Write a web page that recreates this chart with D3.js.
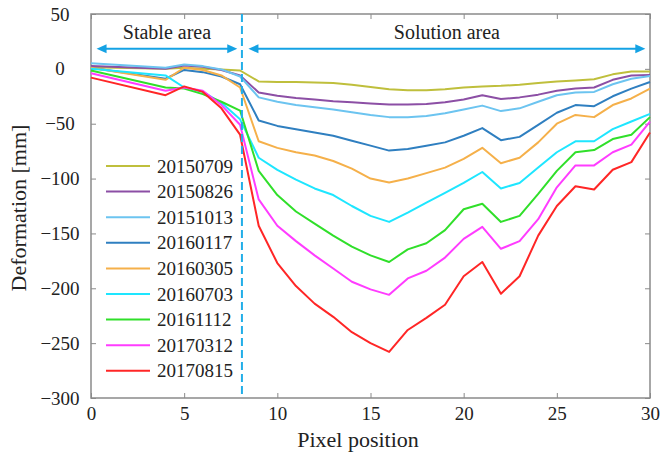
<!DOCTYPE html>
<html>
<head>
<meta charset="utf-8">
<script src="https://cdn.jsdelivr.net/npm/d3@7"></script>
<style>
  body { margin: 0; background: #fff; }
  svg { display: block; }
</style>
</head>
<body>
<main></main>
<script>
// pixel positions (shared by every series)
const positions = [0, 4, 5, 6, 7, 8, 9, 10, 11, 12, 13, 14, 15, 16, 17, 18, 19, 20, 21, 22, 23, 24, 25, 26, 27, 28, 29, 30];

const dates = ['20150709', '20150826', '20151013', '20160117', '20160305', '20160703', '20161112', '20170312', '20170815'];

// deformation in mm, one array per date
const d20150709 = [1.5, 0, 1, 0, -0.5, -1.5, -11.5, -12, -12, -12.5, -13, -14.5, -16.5, -18.5, -19.5, -19.5, -18.5, -17, -16, -15.5, -14.5, -13, -11.5, -10.5, -9.5, -5, -2.5, -2.5];
const d20150826 = [2.5, 0, 3, 2, -1, -6, -21.5, -24.5, -26.5, -28, -29.5, -30.5, -31.5, -32.5, -32.5, -32, -30.5, -28, -24, -27.5, -26, -23.5, -20, -18, -17, -10, -6, -5.5];
const d20151013 = [5, 1, 4, 2.5, -0.5, -7, -26, -30, -33, -35, -37, -39.5, -42, -44, -44, -43, -40.5, -37, -33.5, -38.5, -36, -30, -24, -21.5, -21, -14, -9, -6.5];
const d20160117 = [1, -9, -1, -3, -7, -14, -47, -52, -55, -58, -61, -65.5, -70, -74.5, -73, -70, -67, -61, -54, -65, -62, -51, -40, -33, -34, -25, -18, -12];
const d20160305 = [1, -10, 1, -1, -6, -17, -66, -72, -76, -79, -84, -91, -100, -103.5, -100, -95, -90, -82, -72, -86, -81, -67, -50, -42, -44, -33, -27, -18];
const d20160703 = [0, -6, -17, -21, -31, -46, -81, -92, -101, -109, -115, -125, -134, -139.5, -131, -122, -113, -104, -94, -109, -104, -90, -76, -66, -66, -55, -48, -41];
const d20161112 = [-1.5, -17, -18, -23, -30, -38, -93, -115, -130, -141, -152, -162, -170, -176, -164.5, -159, -147, -128, -123, -139.5, -134, -114, -93, -76, -74, -64, -60, -44];
const d20170312 = [-4, -20, -17, -20, -33, -51, -119, -143, -157, -170, -182, -194, -201, -206, -191, -184, -172, -155, -144, -164, -157, -137, -108, -88, -88, -76, -69, -48];
const d20170815 = [-8, -24, -16, -21, -36, -60, -143, -177, -198, -214, -226, -240, -250, -258, -238, -227, -215, -189, -176, -205, -189, -152, -125, -107, -110, -92, -85, -58];

const seriesValues = [d20150709, d20150826, d20151013, d20160117, d20160305, d20160703, d20161112, d20170312, d20170815];

const xTicks = [0, 5, 10, 15, 20, 25, 30];
const yTicks = [50, 0, -50, -100, -150, -200, -250, -300];

const boundary = 8.1; // between stable and solution area

const colors = ['#bfbf3c', '#8c4fa5', '#6cc4f0', '#2f7fc0', '#f5b04a', '#1ee6ff', '#30df2a', '#ff3cff', '#ff2626'];

const fontFamily = "'Liberation Serif', 'Times New Roman', Times, serif";

const dimensions = {
  width: 660,
  height: 453,
  margin: { top: 14, right: 10, bottom: 55, left: 91 },
};
dimensions.boundedWidth = dimensions.width - dimensions.margin.left - dimensions.margin.right;
dimensions.boundedHeight = dimensions.height - dimensions.margin.top - dimensions.margin.bottom;

const svg = d3
  .select('main')
  .append('svg')
  .attr('width', dimensions.width)
  .attr('height', dimensions.height)
  .attr('font-family', fontFamily);

const bounds = svg
  .append('g')
  .attr('transform', `translate(${dimensions.margin.left} ${dimensions.margin.top})`);

const xScale = d3.scaleLinear().domain([0, 30]).range([0, dimensions.boundedWidth]);
const yScale = d3.scaleLinear().domain([-300, 50]).range([dimensions.boundedHeight, 0]);

const axisColor = '#8a8a8a';
const textColor = '#222';

// axes with inward ticks
const xAxis = bounds
  .append('g')
  .attr('transform', `translate(0 ${dimensions.boundedHeight})`)
  .call(d3.axisBottom(xScale).tickValues(xTicks).tickSize(-5).tickPadding(9));
const xAxisTop = bounds
  .append('g')
  .call(d3.axisTop(xScale).tickValues(xTicks).tickSize(-5).tickFormat(''));
const yAxis = bounds
  .append('g')
  .call(d3.axisLeft(yScale).tickValues(yTicks).tickSize(-5));
const yAxisRight = bounds
  .append('g')
  .attr('transform', `translate(${dimensions.boundedWidth} 0)`)
  .call(d3.axisRight(yScale).tickValues(yTicks).tickSize(-5).tickFormat(''));

[xAxis, xAxisTop, yAxis, yAxisRight].forEach(axis => {
  axis.attr('font-family', fontFamily).attr('font-size', 19);
  axis.select('.domain').remove();
  axis.selectAll('line').attr('stroke', axisColor).attr('stroke-width', 1);
  axis.selectAll('text').attr('fill', textColor);
});

yAxis.selectAll('text').attr('text-anchor', 'middle').attr('x', -31);

// box
bounds
  .append('rect')
  .attr('width', dimensions.boundedWidth)
  .attr('height', dimensions.boundedHeight)
  .attr('fill', 'none')
  .attr('stroke', axisColor)
  .attr('stroke-width', 1.5);

// lines
const lineGenerator = d3
  .line()
  .x((d, i) => xScale(positions[i]))
  .y(d => yScale(d));

bounds
  .append('g')
  .selectAll('path')
  .data(seriesValues)
  .join('path')
  .attr('d', d => lineGenerator(d))
  .attr('fill', 'none')
  .attr('stroke', (d, i) => colors[i])
  .attr('stroke-width', 2)
  .attr('stroke-linejoin', 'round');

// boundary between areas
bounds
  .append('line')
  .attr('x1', xScale(boundary))
  .attr('x2', xScale(boundary))
  .attr('y1', 0)
  .attr('y2', dimensions.boundedHeight)
  .attr('stroke', '#22aee8')
  .attr('stroke-width', 2)
  .attr('stroke-dasharray', '8,4');

// area arrows
const arrowColor = '#14a2e4';
const arrowY = yScale(18.3);
const drawArrow = (x0, x1, label) => {
  const g = bounds.append('g');
  g.append('line')
    .attr('x1', x0 + 6)
    .attr('x2', x1 - 6)
    .attr('y1', arrowY)
    .attr('y2', arrowY)
    .attr('stroke', arrowColor)
    .attr('stroke-width', 2);
  g.append('path')
    .attr('d', `M ${x0} ${arrowY} l 10 -4.5 v 9 Z`)
    .attr('fill', arrowColor);
  g.append('path')
    .attr('d', `M ${x1} ${arrowY} l -10 -4.5 v 9 Z`)
    .attr('fill', arrowColor);
  g.append('text')
    .attr('x', (x0 + x1) / 2)
    .attr('y', arrowY - 10)
    .attr('text-anchor', 'middle')
    .attr('font-size', 20)
    .attr('fill', textColor)
    .text(label);
};
drawArrow(xScale(0.3), xScale(7.85), 'Stable area');
drawArrow(xScale(8.45), xScale(29.75), 'Solution area');

// legend
const legend = bounds.append('g').attr('transform', 'translate(15 152)');
const legendRows = legend
  .selectAll('g')
  .data(dates)
  .join('g')
  .attr('transform', (d, i) => `translate(0 ${i * 25.6})`);
legendRows
  .append('line')
  .attr('x1', 0)
  .attr('x2', 44)
  .attr('stroke', (d, i) => colors[i])
  .attr('stroke-width', 2);
legendRows
  .append('text')
  .attr('x', 51)
  .attr('dy', '0.35em')
  .attr('font-size', 19)
  .attr('fill', textColor)
  .text(d => d);

// axis titles
svg
  .append('text')
  .attr('x', 358)
  .attr('y', 447)
  .attr('text-anchor', 'middle')
  .attr('font-size', 22)
  .attr('fill', textColor)
  .text('Pixel position');

svg
  .append('text')
  .attr('transform', 'translate(26 208) rotate(-90)')
  .attr('text-anchor', 'middle')
  .attr('font-size', 22)
  .attr('fill', textColor)
  .text('Deformation [mm]');
</script>
</body>
</html>
